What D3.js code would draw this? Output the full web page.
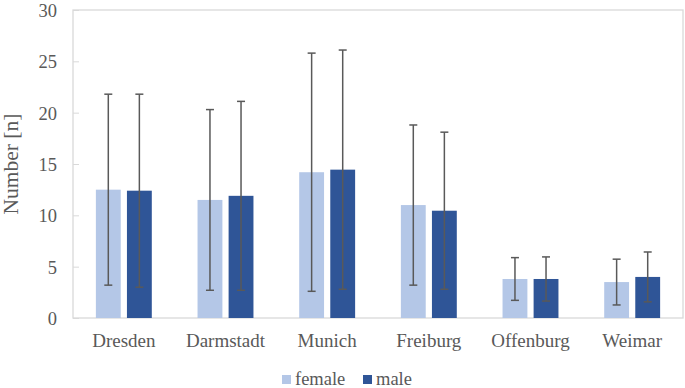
<!DOCTYPE html>
<html>
<head>
<meta charset="utf-8">
<script src="https://cdn.jsdelivr.net/npm/d3@7"></script>
<style>
  body { margin: 0; background: #fff; }
</style>
</head>
<body>
<div id="container"></div>
<script>
const cities = ['Dresden', 'Darmstadt', 'Munich', 'Freiburg', 'Offenburg', 'Weimar'];
const seriesNames = ['female', 'male'];
const femaleMean = [12.5, 11.5, 14.2, 11.0, 3.8, 3.5];
const femaleSd = [9.3, 8.8, 11.6, 7.8, 2.08, 2.23];
const maleMean = [12.4, 11.9, 14.45, 10.45, 3.8, 4.0];
const maleSd = [9.4, 9.2, 11.65, 7.65, 2.15, 2.43];
const yTicks = [0, 5, 10, 15, 20, 25, 30];
const colors = ['#b4c7e7', '#2f5597'];

const w = 685;
const h = 388;
const margin = { top: 10, right: 2, bottom: 70, left: 73 };
const serif = '"Liberation Serif"';

const svg = d3.select('#container').append('svg')
    .attr('width', w)
    .attr('height', h);

const x0 = d3.scaleBand()
    .domain(cities)
    .range([margin.left, w - margin.right])
    .paddingInner(0.45)
    .paddingOuter(0.225);

const x1 = d3.scaleBand()
    .domain(seriesNames)
    .range([0, x0.bandwidth()])
    .paddingInner(0.2);

const y = d3.scaleLinear()
    .domain([0, 30])
    .range([h - margin.bottom, margin.top]);

// plot frame
svg.append('rect')
    .attr('x', margin.left)
    .attr('y', margin.top)
    .attr('width', w - margin.left - margin.right)
    .attr('height', y(0) - margin.top)
    .attr('fill', 'none')
    .attr('stroke', '#d9d9d9')
    .attr('stroke-width', 1.3);

// y axis
const yAxis = svg.append('g')
    .attr('transform', `translate(${margin.left},0)`)
    .call(d3.axisRight(y).tickValues(yTicks).tickSize(6).tickFormat(d => ''));
yAxis.select('.domain').remove();
yAxis.selectAll('line').attr('stroke', '#d9d9d9');

svg.append('g')
    .selectAll('text')
    .data(yTicks)
    .join('text')
    .attr('x', 57)
    .attr('y', d => y(d))
    .attr('dy', '0.37em')
    .attr('text-anchor', 'end')
    .attr('fill', '#595959')
    .style('font-family', serif)
    .style('font-size', '18.5px')
    .text(d => d);

svg.append('text')
    .attr('transform', `translate(18, ${(y(0) + y(30)) / 2}) rotate(-90)`)
    .attr('text-anchor', 'middle')
    .attr('fill', '#595959')
    .style('font-family', serif)
    .style('font-size', '21.5px')
    .text('Number [n]');

// category labels
svg.append('g')
    .selectAll('text')
    .data(cities)
    .join('text')
    .attr('x', d => x0(d) + x0.bandwidth() / 2)
    .attr('y', 347)
    .attr('text-anchor', 'middle')
    .attr('fill', '#595959')
    .style('font-family', serif)
    .style('font-size', '19px')
    .text(d => d);

const rows = cities.map((c, i) => [
    { city: c, key: 'female', mean: femaleMean[i], sd: femaleSd[i] },
    { city: c, key: 'male', mean: maleMean[i], sd: maleSd[i] }
]).flat();

const color = d3.scaleOrdinal().domain(seriesNames).range(colors);

svg.append('g')
    .selectAll('rect')
    .data(rows)
    .join('rect')
    .attr('x', d => x0(d.city) + x1(d.key))
    .attr('y', d => y(d.mean))
    .attr('width', x1.bandwidth())
    .attr('height', d => y(0) - y(d.mean))
    .attr('fill', d => color(d.key));

// error bars
const err = svg.append('g')
    .attr('stroke', '#595959')
    .attr('stroke-width', 1.5);

const cx = d => x0(d.city) + x1(d.key) + x1.bandwidth() / 2;

err.selectAll('line.v')
    .data(rows)
    .join('line')
    .attr('class', 'v')
    .attr('x1', cx)
    .attr('x2', cx)
    .attr('y1', d => y(d.mean + d.sd))
    .attr('y2', d => y(d.mean - d.sd));

err.selectAll('line.top')
    .data(rows)
    .join('line')
    .attr('class', 'top')
    .attr('x1', d => cx(d) - 4)
    .attr('x2', d => cx(d) + 4)
    .attr('y1', d => y(d.mean + d.sd))
    .attr('y2', d => y(d.mean + d.sd));

err.selectAll('line.bot')
    .data(rows)
    .join('line')
    .attr('class', 'bot')
    .attr('x1', d => cx(d) - 4)
    .attr('x2', d => cx(d) + 4)
    .attr('y1', d => y(d.mean - d.sd))
    .attr('y2', d => y(d.mean - d.sd));

// legend
const legendX = [282, 363];
const legend = svg.append('g')
    .selectAll('g')
    .data(seriesNames)
    .join('g')
    .attr('transform', (d, i) => `translate(${legendX[i]}, 375)`);

legend.append('rect')
    .attr('width', 9)
    .attr('height', 9)
    .attr('fill', d => color(d));

legend.append('text')
    .attr('x', 13)
    .attr('y', 9.5)
    .attr('fill', '#595959')
    .style('font-family', serif)
    .style('font-size', '18.5px')
    .text(d => d);
</script>
</body>
</html>
